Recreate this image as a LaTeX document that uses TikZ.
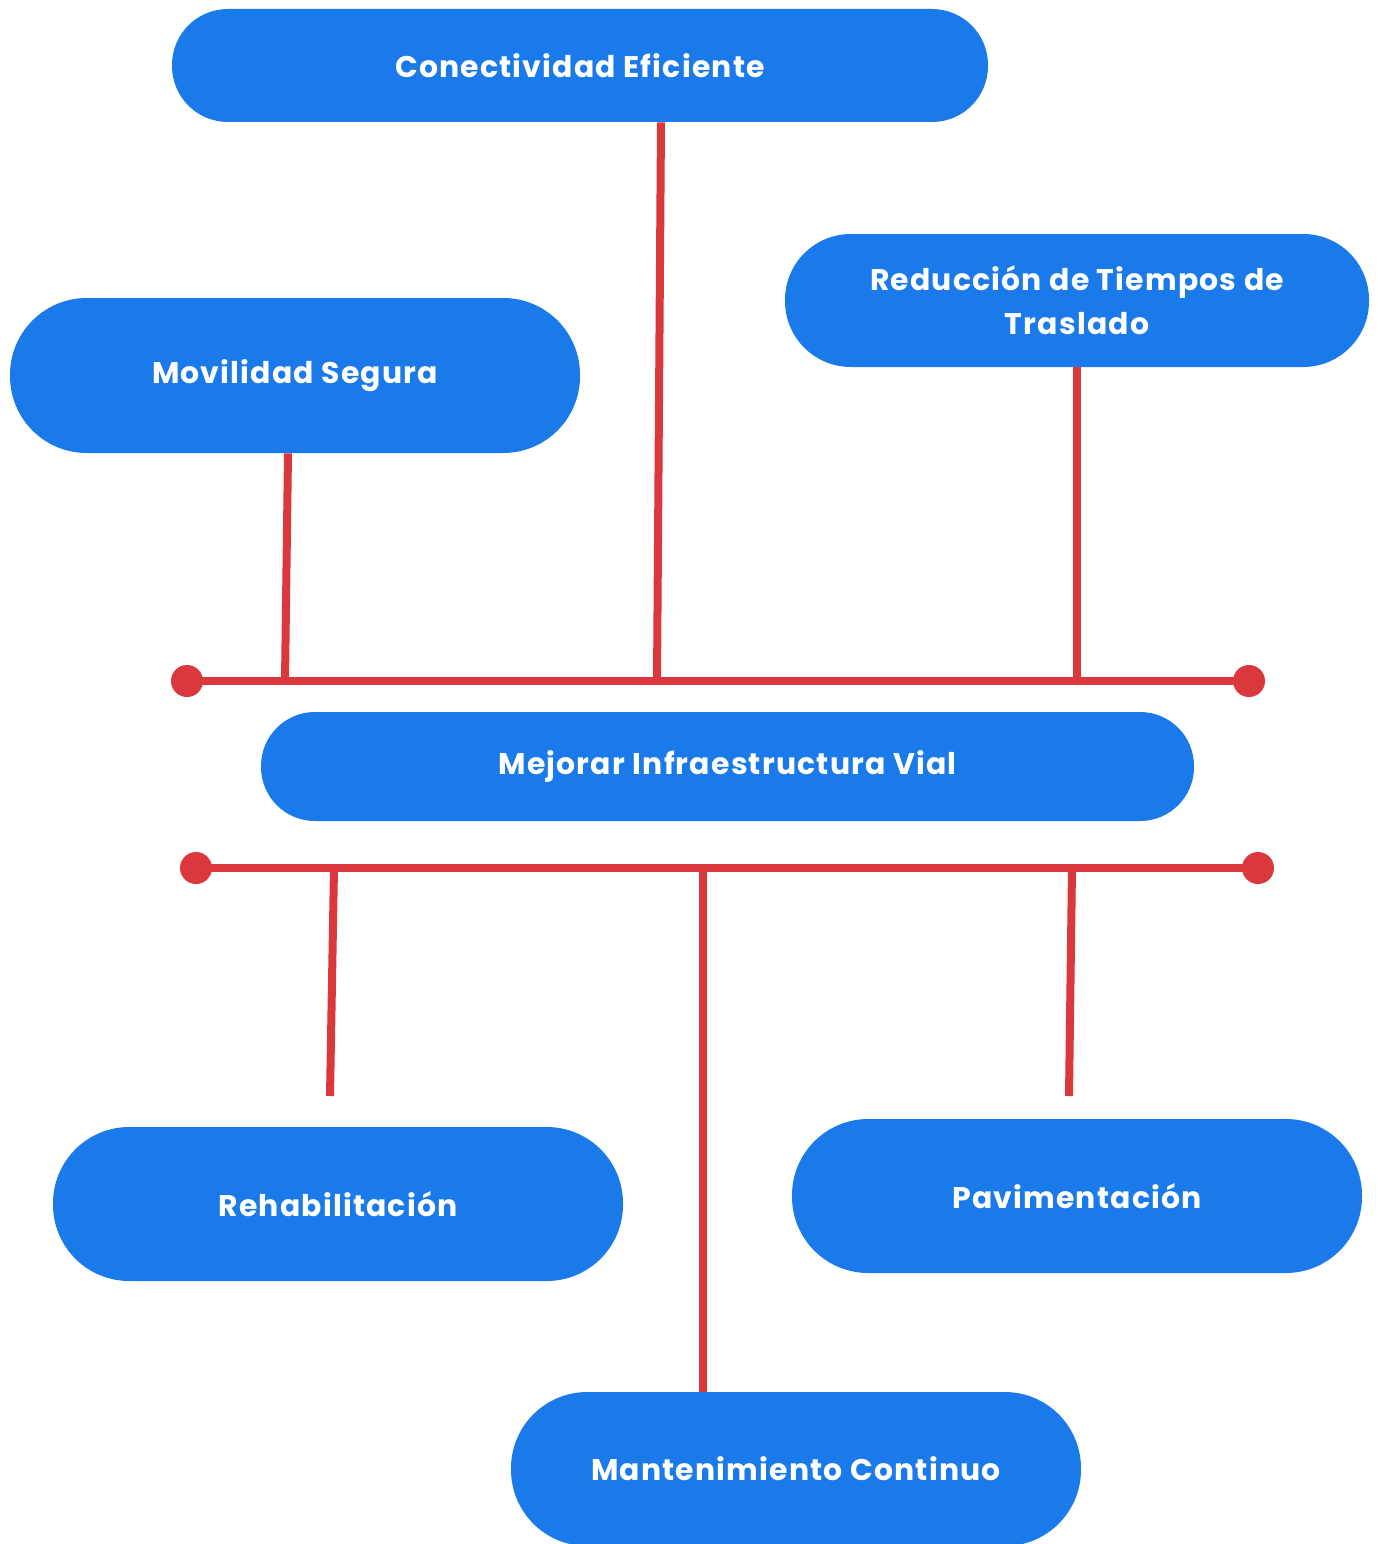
\documentclass[tikz,border=0pt]{standalone}
\usepackage{fontspec}
\setmainfont{Poppins}[LetterSpace=4]
\definecolor{boxblue}{HTML}{1A7AE9}
\definecolor{linered}{HTML}{DA383C}
\begin{document}
\begin{tikzpicture}[x=0.02cm,y=-0.02cm,
  pill/.style 2 args={rectangle, fill=boxblue, draw=none, text=white,
    font=\fontsize{17}{25}\selectfont\bfseries, align=center, inner sep=0pt,
    minimum width=#1*0.02cm, minimum height=#2*0.02cm, rounded corners=#2*0.0099cm},
  link/.style={draw=linered, line width=0.16cm},
  enddot/.style={circle, fill=linered, inner sep=0pt, minimum size=0.64cm}]
\useasboundingbox (0,0) rectangle (1377,1544);
% nodes
\node[pill={816}{113}] (con) at (580,65.5) {Conectividad Eficiente};
\node[pill={570}{155}] (mov) at (295,375.5) {Movilidad Segura};
\node[pill={584}{133}] (red) at (1077,300.5) {Reducción de Tiempos de\\Traslado};
\node[pill={933}{109}] (mej) at (727.5,766.5) {Mejorar Infraestructura Vial};
\node[pill={570}{154}] (reh) at (338,1204) {Rehabilitación};
\node[pill={570}{154}] (pav) at (1077,1196) {Pavimentación};
\node[pill={570}{154}] (man) at (796,1469) {Mantenimiento Continuo};
% top bus
\coordinate (tl) at (187,681);
\coordinate (tr) at (1249,681);
\coordinate (tmov) at (285,681);
\coordinate (tcon) at (657,681);
\coordinate (tred) at (1077,681);
\draw[link] (tl) -- (tr);
\draw[link] (mov.south -| 288,0) -- (tmov);
\draw[link] (con.south -| 661,0) -- (tcon);
\draw[link] (red.south) -- (tred);
\node[enddot] at (tl) {};
\node[enddot] at (tr) {};
% bottom bus
\coordinate (bl) at (196,868);
\coordinate (br) at (1258,868);
\coordinate (breh) at (334,868);
\coordinate (bman) at (703,868);
\coordinate (bpav) at (1072,868);
\coordinate (ereh) at (330,1096);
\coordinate (epav) at (1069,1096);
\draw[link] (bl) -- (br);
\draw[link] (breh) -- (ereh);
\draw[link] (bman) -- (man.north -| 703,0);
\draw[link] (bpav) -- (epav);
\node[enddot] at (bl) {};
\node[enddot] at (br) {};
\end{tikzpicture}
\end{document}
